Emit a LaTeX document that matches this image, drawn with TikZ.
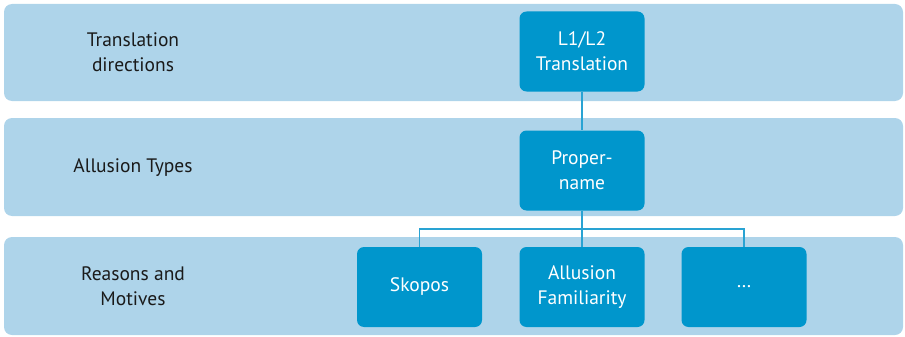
\documentclass[tikz,border=0pt]{standalone}
\usepackage{fontspec}
\setmainfont{PT Sans}
\definecolor{bandblue}{HTML}{AED4EA}
\definecolor{boxblue}{HTML}{0096CC}
\definecolor{linkblue}{HTML}{29A3D3}
\definecolor{labeltext}{HTML}{1A1A1A}
\begin{document}
\begin{tikzpicture}[x=1pt,y=-1pt,
  band/.style={fill=bandblue, draw=none, rounded corners=8pt},
  stepbox/.style={fill=boxblue, draw=none, rounded corners=7pt, text=white,
    minimum width=125pt, minimum height=80pt, align=center, inner sep=0pt,
    font=\fontsize{19.5}{25}\selectfont},
  rowlabel/.style={text=labeltext, align=center, inner sep=0pt,
    font=\fontsize{19.5}{25}\selectfont},
  link/.style={draw=linkblue, line width=1.1pt}]
\useasboundingbox (0,0) rectangle (905,337);
% background bands
\fill[band] (4,4) rectangle (903,101);
\fill[band] (4,118) rectangle (903,216);
\fill[band] (4,237) rectangle (903,335);
% row labels
\node[rowlabel] (l1) at (133,52) {Translation\\directions};
\node[rowlabel] (l2) at (133,168) {Allusion Types};
\node[rowlabel] (l3) at (133,286) {Reasons and\\Motives};
% boxes
\coordinate (bus) at (582,229);
\node[stepbox] (dir) at (582,51.5) {L1/L2\\Translation};
\node[stepbox] (type) at (582,170.5) {Proper-\\name};
\node[stepbox] (sk) at (419.5,287) {Skopos};
\node[stepbox] (fam) at (582,287) {Allusion\\Familiarity};
\node[stepbox] (etc) at (744,287) {\dots};
% connectors
\draw[link] (dir.south) -- (type.north);
\draw[link] (type.south) -- (fam.north);
\draw[link] (sk.north) |- (bus) -| (etc.north);
\end{tikzpicture}
\end{document}
